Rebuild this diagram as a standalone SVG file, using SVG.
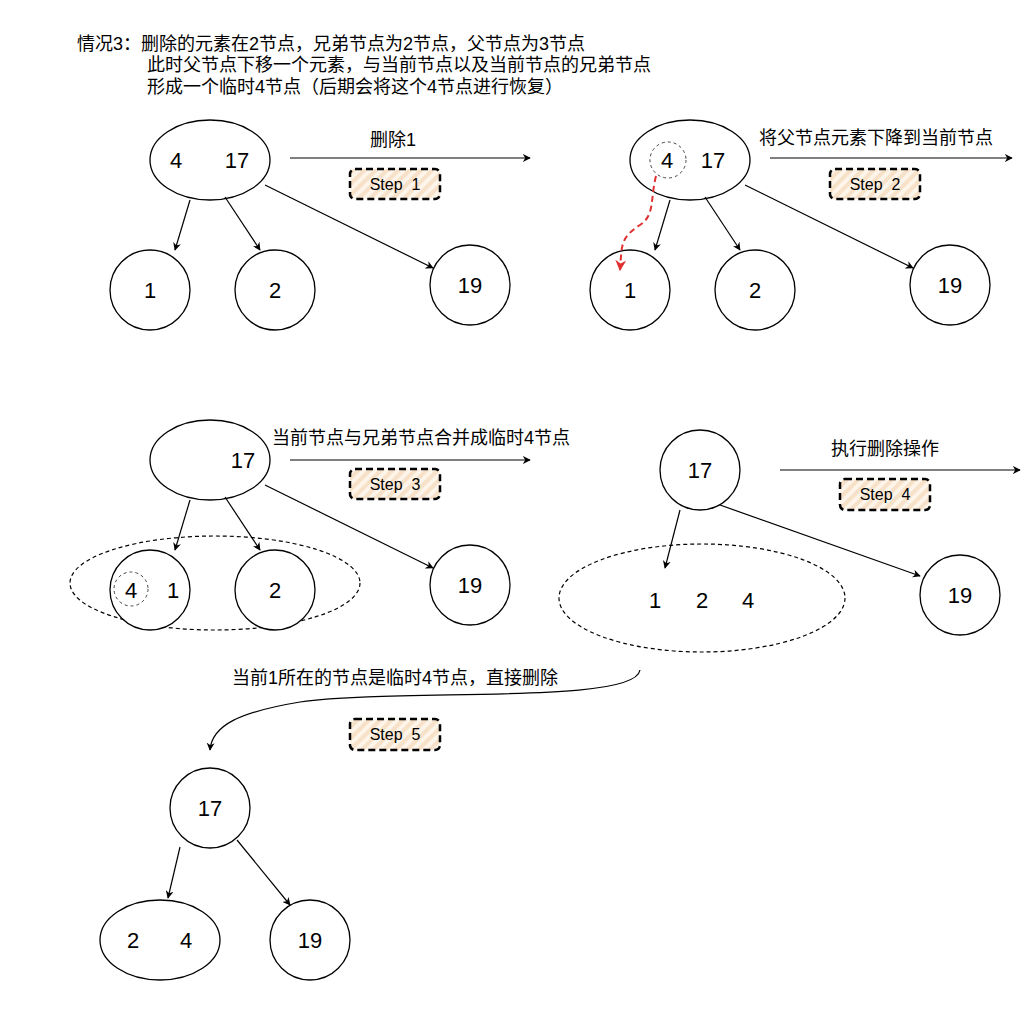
<svg xmlns="http://www.w3.org/2000/svg" width="1029" height="1015" viewBox="0 0 1029 1015">
<style>
text{font-family:"Liberation Sans","Noto Sans CJK SC",sans-serif;fill:#000}
.t{font-size:18px}
.n{font-size:22px;text-anchor:middle;dominant-baseline:central}
.s{font-size:16px;text-anchor:middle;dominant-baseline:central;white-space:pre}
.nd{fill:#fff;stroke:#000;stroke-width:1.3}
.dc{fill:none;stroke:#444;stroke-width:1;stroke-dasharray:3 3}
.de{fill:none;stroke:#000;stroke-width:1.2;stroke-dasharray:4 3}
.e{fill:none;stroke:#000;stroke-width:1.2;marker-end:url(#a)}
.st{fill:url(#h);stroke:#000;stroke-width:2.5;stroke-dasharray:7 4}
</style>
<defs>
<marker id="a" viewBox="0 0 10 10" refX="9" refY="5" markerWidth="8" markerHeight="8" orient="auto" markerUnits="userSpaceOnUse"><path d="M0,0 L10,5 L0,10 L3,5 Z" fill="#000"/></marker>
<marker id="r" viewBox="0 0 10 10" refX="9" refY="5" markerWidth="11" markerHeight="11" orient="auto" markerUnits="userSpaceOnUse"><path d="M0,0 L10,5 L0,10 L3,5 Z" fill="#e03030"/></marker>
<pattern id="h" width="8" height="8" patternUnits="userSpaceOnUse" patternTransform="rotate(45)"><rect width="8" height="8" fill="#fdf4ea"/><rect width="4" height="8" fill="#f7e1c8"/></pattern>
</defs>
<rect width="1029" height="1015" fill="#fff"/>
<g id="title">
<text class="t" x="77" y="50">情况3：删除的元素在2节点，兄弟节点为2节点，父节点为3节点</text>
<text class="t" x="147" y="71">此时父节点下移一个元素，与当前节点以及当前节点的兄弟节点</text>
<text class="t" x="147" y="93">形成一个临时4节点（后期会将这个4节点进行恢复）</text>
</g>
<g id="labels">
<text class="t" x="393" y="146" text-anchor="middle">删除1</text>
<text class="t" x="876" y="144" text-anchor="middle">将父节点元素下降到当前节点</text>
<text class="t" x="421" y="444" text-anchor="middle">当前节点与兄弟节点合并成临时4节点</text>
<text class="t" x="885" y="455" text-anchor="middle">执行删除操作</text>
<text class="t" x="395" y="684" text-anchor="middle">当前1所在的节点是临时4节点，直接删除</text>
</g>
<g id="step1"><rect class="st" x="350" y="169" width="90" height="30" rx="5"/><text class="s" x="395" y="184">Step  1</text></g>
<g id="step2"><rect class="st" x="830" y="169" width="90" height="30" rx="5"/><text class="s" x="875" y="184">Step  2</text></g>
<g id="step3"><rect class="st" x="350" y="469" width="90" height="30" rx="5"/><text class="s" x="395" y="484">Step  3</text></g>
<g id="step4"><rect class="st" x="840" y="479" width="90" height="31" rx="5"/><text class="s" x="885" y="494">Step  4</text></g>
<g id="step5"><rect class="st" x="350" y="719" width="90" height="31" rx="5"/><text class="s" x="395" y="734">Step  5</text></g>
<g id="p1-parent"><ellipse class="nd" cx="210" cy="160" rx="60" ry="40"/><text class="n" x="176" y="160">4</text><text class="n" x="237" y="160">17</text></g>
<g id="p1-c1"><circle class="nd" cx="150" cy="290" r="40"/><text class="n" x="150" y="290">1</text></g>
<g id="p1-c2"><circle class="nd" cx="275" cy="290" r="40"/><text class="n" x="275" y="290">2</text></g>
<g id="p1-c19"><circle class="nd" cx="470" cy="285" r="40"/><text class="n" x="470" y="285">19</text></g>
<g id="p2-parent"><ellipse class="nd" cx="690" cy="160" rx="60" ry="40"/><circle class="dc" cx="668" cy="160" r="18"/><text class="n" x="667" y="160">4</text><text class="n" x="713" y="160">17</text></g>
<g id="p2-c1"><circle class="nd" cx="630" cy="290" r="40"/><text class="n" x="630" y="290">1</text></g>
<g id="p2-c2"><circle class="nd" cx="755" cy="290" r="40"/><text class="n" x="755" y="290">2</text></g>
<g id="p2-c19"><circle class="nd" cx="950" cy="285" r="40"/><text class="n" x="950" y="285">19</text></g>
<g id="p3-parent"><ellipse class="nd" cx="210" cy="460" rx="60" ry="40"/><text class="n" x="243" y="460">17</text></g>
<g id="p3-temp"><ellipse class="de" cx="215" cy="583" rx="145" ry="47"/></g>
<g id="p3-c1"><circle class="nd" cx="150" cy="590" r="40"/><circle class="dc" cx="131" cy="589" r="17"/><text class="n" x="131" y="590">4</text><text class="n" x="173" y="590">1</text></g>
<g id="p3-c2"><circle class="nd" cx="275" cy="590" r="40"/><text class="n" x="275" y="590">2</text></g>
<g id="p3-c19"><circle class="nd" cx="470" cy="585" r="40"/><text class="n" x="470" y="585">19</text></g>
<g id="p4-parent"><circle class="nd" cx="700" cy="470" r="40"/><text class="n" x="700" y="470">17</text></g>
<g id="p4-temp"><ellipse class="de" cx="702" cy="598" rx="143" ry="54"/><text class="n" x="655" y="600">1</text><text class="n" x="702" y="600">2</text><text class="n" x="748" y="600">4</text></g>
<g id="p4-c19"><circle class="nd" cx="960" cy="595" r="40"/><text class="n" x="960" y="595">19</text></g>
<g id="p5-parent"><circle class="nd" cx="210" cy="808" r="40"/><text class="n" x="210" y="808">17</text></g>
<g id="p5-c1"><ellipse class="nd" cx="160" cy="940" rx="60" ry="40"/><text class="n" x="133" y="940">2</text><text class="n" x="186" y="940">4</text></g>
<g id="p5-c19"><circle class="nd" cx="310" cy="940" r="40"/><text class="n" x="310" y="940">19</text></g>
<g id="connectors">
<line class="e" x1="190" y1="200" x2="175" y2="250"/>
<line class="e" x1="225" y1="197" x2="260" y2="250"/>
<line class="e" x1="265" y1="185" x2="433" y2="268"/>
<line class="e" x1="290" y1="158" x2="530" y2="158"/>
<line class="e" x1="670" y1="200" x2="655" y2="250"/>
<line class="e" x1="705" y1="197" x2="740" y2="250"/>
<line class="e" x1="745" y1="185" x2="913" y2="268"/>
<line class="e" x1="770" y1="158" x2="1012" y2="158"/>
<path d="M656,176 C650,200 655,215 640,225 C620,238 622,245 620,270" fill="none" stroke="#e03030" stroke-width="2" stroke-dasharray="6 4" marker-end="url(#r)"/>
<line class="e" x1="190" y1="500" x2="175" y2="550"/>
<line class="e" x1="225" y1="497" x2="260" y2="550"/>
<line class="e" x1="265" y1="485" x2="433" y2="568"/>
<line class="e" x1="290" y1="460" x2="530" y2="460"/>
<line class="e" x1="680" y1="510" x2="665" y2="568"/>
<line class="e" x1="720" y1="505" x2="920" y2="576"/>
<line class="e" x1="780" y1="470" x2="1020" y2="470"/>
<path class="e" d="M640,670 C635,705 400,688 300,702 C240,712 212,725 210,750"/>
<line class="e" x1="180" y1="847" x2="168" y2="898"/>
<line class="e" x1="237" y1="840" x2="290" y2="905"/>
</g>
</svg>
